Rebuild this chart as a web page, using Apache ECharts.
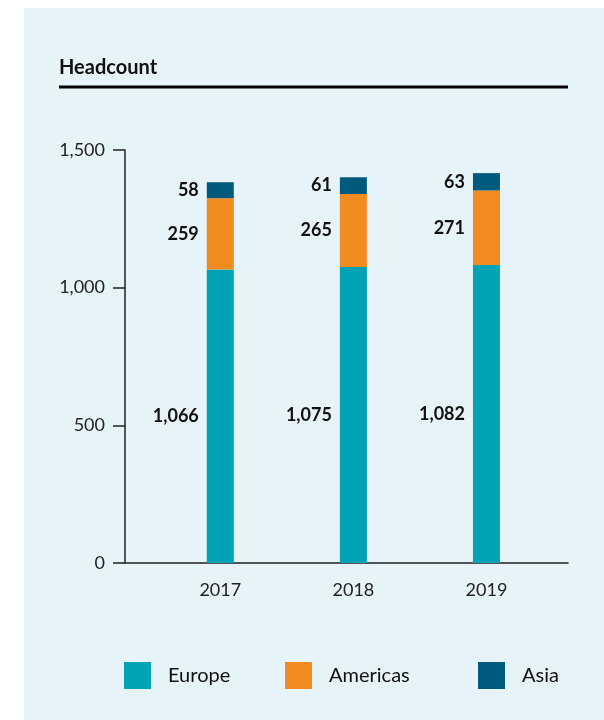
<!DOCTYPE html>
<html>
<head>
<meta charset="utf-8">
<script src="https://cdn.jsdelivr.net/npm/echarts@6/dist/echarts.min.js"></script>
<style>
html,body{margin:0;padding:0;background:#fff;}
#panel{position:absolute;left:24px;top:8px;right:0;bottom:0;background:#E6F3F8;}
#chart{position:absolute;left:0;top:0;width:604px;height:720px;}
</style>
</head>
<body>
<div id="panel"></div>
<div id="chart"></div>
<script>
const categories = ['2017', '2018', '2019'];
const europe = [1066, 1075, 1082];
const americas = [259, 265, 271];
const asia = [58, 61, 63];
const seriesNames = ['Europe', 'Americas', 'Asia'];

const colors = ['#00A3B5', '#F28B1F', '#005A7E'];
const FONT = 'Lato';

function fmt(v) { return Number(v).toLocaleString('en-US'); }

function mkSeries(name, values, color) {
  return {
    name: name,
    type: 'bar',
    stack: 'total',
    xAxisIndex: 1,
    yAxisIndex: 1,
    barWidth: 27,
    itemStyle: { color: color },
    data: values,
    label: {
      show: true,
      position: 'left',
      distance: 8,
      formatter: p => fmt(p.value),
      fontFamily: FONT,
      fontWeight: 'bold',
      fontSize: 18,
      color: '#111'
    },
    emphasis: { disabled: true }
  };
}

function mkLegend(name, left) {
  return {
    data: [name],
    left: left,
    top: 662,
    padding: 0,
    icon: 'rect',
    itemWidth: 27,
    itemHeight: 27,
    selectedMode: false,
    textStyle: { fontFamily: FONT, fontSize: 20, color: '#111', padding: [0, 0, 0, 12] }
  };
}

const chart = echarts.init(document.getElementById('chart'), null, { renderer: 'canvas' });
chart.setOption({
  animation: false,
  backgroundColor: 'transparent',
  title: {
    text: 'Headcount',
    left: 59,
    top: 58,
    padding: 0,
    textStyle: { fontFamily: FONT, fontWeight: 'bold', fontSize: 20, color: '#111' }
  },
  graphic: [{
    type: 'line',
    shape: { x1: 59, y1: 87, x2: 568, y2: 87 },
    style: { stroke: '#000', lineWidth: 3 }
  }],
  legend: [mkLegend(seriesNames[0], 124), mkLegend(seriesNames[1], 285), mkLegend(seriesNames[2], 478)],
  grid: [
    { left: 125, right: 36, top: 150, bottom: 157, containLabel: false },
    { left: 153.75, right: 51, top: 150, bottom: 157, containLabel: false }
  ],
  xAxis: [{
    gridIndex: 0,
    type: 'value',
    min: 0,
    max: 1,
    splitLine: { show: false },
    axisLine: { show: true, onZero: false, lineStyle: { color: '#222', width: 1.5 } },
    axisTick: { show: false },
    axisLabel: { show: false }
  }, {
    gridIndex: 1,
    type: 'category',
    data: categories,
    axisLine: { show: false },
    axisTick: { show: false },
    axisLabel: {
      margin: 18,
      fontFamily: FONT,
      fontSize: 18,
      color: '#222'
    }
  }],
  yAxis: [{
    gridIndex: 0,
    type: 'value',
    min: 0,
    max: 1500,
    interval: 500,
    splitLine: { show: false },
    axisLine: { show: true, onZero: false, lineStyle: { color: '#222', width: 1.5 } },
    axisTick: { show: true, inside: false, length: 12, lineStyle: { color: '#222', width: 1.5 } },
    axisLabel: {
      margin: 20,
      fontFamily: FONT,
      fontSize: 18,
      color: '#222',
      formatter: v => fmt(v)
    }
  }, {
    gridIndex: 1,
    type: 'value',
    min: 0,
    max: 1500,
    interval: 500,
    show: false,
    splitLine: { show: false }
  }],
  series: [
    mkSeries(seriesNames[0], europe, colors[0]),
    mkSeries(seriesNames[1], americas, colors[1]),
    mkSeries(seriesNames[2], asia, colors[2])
  ]
});
</script>
</body>
</html>
